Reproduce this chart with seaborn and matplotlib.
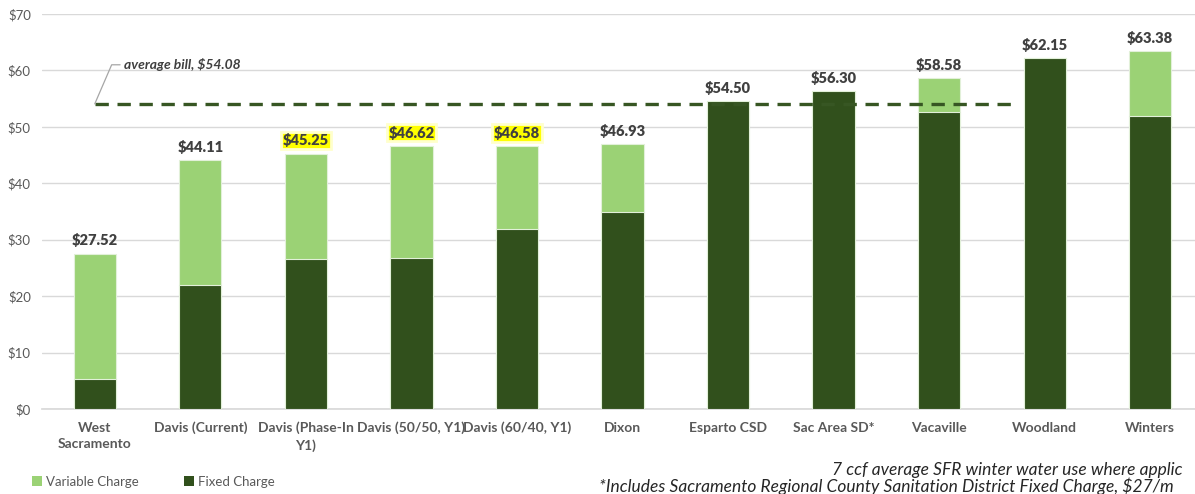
import matplotlib
matplotlib.use("Agg")
import matplotlib.pyplot as plt
import seaborn as sns
import pandas as pd
from matplotlib.patches import Patch

categories = ["West\nSacramento", "Davis (Current)", "Davis (Phase-In\nY1)", "Davis (50/50, Y1)",
              "Davis (60/40, Y1)", "Dixon", "Esparto CSD", "Sac Area SD*", "Vacaville",
              "Woodland", "Winters"]
total_bill = [27.52, 44.11, 45.25, 46.62, 46.58, 46.93, 54.50, 56.30, 58.58, 62.15, 63.38]
fixed_charge = [5.3, 22.0, 26.6, 26.8, 31.9, 34.9, 54.50, 56.30, 52.6, 62.15, 51.9]
highlighted = [False, False, True, True, True, False, False, False, False, False, False]
average_bill = 54.08
y_ticks = [0, 10, 20, 30, 40, 50, 60, 70]

LIGHT = "#9BD275"
DARK = "#31501C"
TEXT = "#404040"
GRAY = "#595959"

sns.set_theme(style="white")
plt.rcParams["font.family"] = ["Lato", "DejaVu Sans"]

df = pd.DataFrame({"cat": categories, "total": total_bill, "fixed": fixed_charge})

fig = plt.figure(figsize=(11.95, 4.94), dpi=100)
ax = fig.add_axes([42 / 1195, 85 / 494, (1203 - 42) / 1195, (494 - 14 - 85) / 494])

sns.barplot(data=df, x="cat", y="total", color=LIGHT, width=0.4, ax=ax,
            saturation=1, edgecolor="#E2F0D9", linewidth=0.8, zorder=3)
sns.barplot(data=df, x="cat", y="fixed", color=DARK, width=0.4, ax=ax,
            saturation=1, edgecolor="#E2F0D9", linewidth=0.8, zorder=3)

ax.set_ylim(0, 70)
ax.set_xlim(-0.5, len(categories) - 0.5)
ax.set_yticks(y_ticks)
ax.set_yticklabels([f"${v}" for v in y_ticks], color=GRAY, fontsize=9.5)
ax.yaxis.grid(True, color="#D9D9D9", linewidth=1, zorder=0)
ax.set_axisbelow(True)
for s in ["top", "right", "left"]:
    ax.spines[s].set_visible(False)
ax.spines["bottom"].set_color("#D9D9D9")
ax.tick_params(axis="both", length=0)
ax.tick_params(axis="y", pad=8)
ax.tick_params(axis="x", pad=9)
ax.set_xticks(range(len(categories)))
ax.set_xticklabels(categories, fontsize=10, fontweight="bold", color=GRAY, linespacing=1.45)
ax.set_xlabel("")
ax.set_ylabel("")

# value labels
for i, (t, h) in enumerate(zip(total_bill, highlighted)):
    kw = dict(ha="center", va="bottom", fontsize=10.5, fontweight="heavy", color=TEXT, zorder=5)
    if h:
        kw["bbox"] = dict(boxstyle="square,pad=0.12", facecolor="#FFFF00", edgecolor="#FFFFCC", linewidth=2)
    ax.annotate(f"\\${t:.2f}", xy=(i, t), xytext=(0, 4.5), textcoords="offset points", **kw)

# average line
ax.plot([0, 8.75], [average_bill, average_bill], color="#375623", linestyle=(0, (4, 2.6)),
        linewidth=2.4, zorder=4)
ax.plot([0, 0.16, 0.24], [average_bill, 61.0, 61.0], color="#A6A6A6", linewidth=0.9, zorder=4)
ax.text(0.28, 61.0, f"average bill, \\${average_bill:.2f}", ha="left", va="center",
        fontsize=10, fontweight="bold", fontstyle="italic", color=TEXT)

# legend
handles = [Patch(facecolor=LIGHT, edgecolor="none"), Patch(facecolor=DARK, edgecolor="none")]
fig.legend(handles, ["Variable Charge", "Fixed Charge"], loc="center left",
           bbox_to_anchor=(0.017, 0.025), ncol=2, frameon=False, fontsize=9.5,
           handlelength=0.75, handleheight=0.75, handletextpad=0.3, columnspacing=3.4,
           labelcolor=GRAY)

# footnotes
fig.text(832 / 1195, 1 - 470 / 494, "7 ccf average SFR winter water use where applic",
         ha="left", va="center", fontsize=12.5, fontstyle="italic", color="#262626")
fig.text(599 / 1195, 1 - 486 / 494,
         "*Includes Sacramento Regional County Sanitation District Fixed Charge, \\$27/m",
         ha="left", va="center", fontsize=12.5, fontstyle="italic", color="#262626")

fig.savefig("out.png", dpi=100)
